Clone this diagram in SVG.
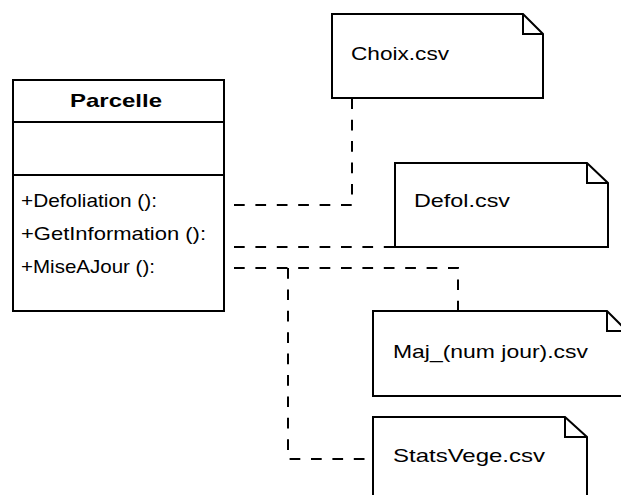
<svg xmlns="http://www.w3.org/2000/svg" width="621" height="495" viewBox="0 0 621 495">
  <style>
    .shape { fill: #ffffff; stroke: #000000; stroke-width: 2; }
    .fold { fill: none; stroke: #000000; stroke-width: 2; }
    .link { fill: none; stroke: #000000; stroke-width: 2; stroke-dasharray: 10.7 10.7; }
    .label { font-family: "Liberation Sans", Arial, sans-serif; font-size: 18.5px; fill: #000000; }
    .title { font-family: "Liberation Sans", Arial, sans-serif; font-size: 18.5px; font-weight: bold; fill: #000000; }
  </style>
  <rect width="621" height="495" fill="#ffffff"/>

  <!-- dependency connectors -->
  <g id="connectors">
    <path class="link" d="M234,205 H352 V98"/>
    <path class="link" d="M234,247 H395"/>
    <path class="link" d="M234,268 H458 V311"/>
    <path class="link" d="M288,268 V459 H373"/>
  </g>

  <!-- class Parcelle -->
  <g id="parcelle">
    <rect class="shape" x="13" y="80" width="211" height="231"/>
    <line class="fold" x1="13" y1="122" x2="224" y2="122"/>
    <line class="fold" x1="13" y1="175" x2="224" y2="175"/>
    <text class="title" x="70" y="107" textLength="92" lengthAdjust="spacingAndGlyphs">Parcelle</text>
    <text class="label" x="21" y="206.5" textLength="136" lengthAdjust="spacingAndGlyphs">+Defoliation ():</text>
    <text class="label" x="21" y="240" textLength="185" lengthAdjust="spacingAndGlyphs">+GetInformation ():</text>
    <text class="label" x="21" y="273" textLength="134" lengthAdjust="spacingAndGlyphs">+MiseAJour ():</text>
  </g>

  <!-- note Choix.csv -->
  <g id="note-choix">
    <path class="shape" d="M332,14 H523 L543,34 V98 H332 Z"/>
    <path class="fold" d="M523,14 V34 H543"/>
    <text class="label" x="351" y="59.5" textLength="98" lengthAdjust="spacingAndGlyphs">Choix.csv</text>
  </g>

  <!-- note Defol.csv -->
  <g id="note-defol">
    <path class="shape" d="M395,163 H587 L608,183 V247 H395 Z"/>
    <path class="fold" d="M587,163 V183 H608"/>
    <text class="label" x="414" y="207" textLength="96" lengthAdjust="spacingAndGlyphs">Defol.csv</text>
  </g>

  <!-- note Maj_(num jour).csv -->
  <g id="note-maj">
    <path class="shape" d="M373,311 H607 L627,331 V396 H373 Z"/>
    <path class="fold" d="M607,311 V331 H627"/>
    <text class="label" x="393" y="358" textLength="195" lengthAdjust="spacingAndGlyphs">Maj_(num jour).csv</text>
  </g>

  <!-- note StatsVege.csv -->
  <g id="note-stats">
    <path class="shape" d="M373,417 H565 L587,437 V505 H373 Z"/>
    <path class="fold" d="M565,417 V437 H587"/>
    <text class="label" x="393" y="462" textLength="152" lengthAdjust="spacingAndGlyphs">StatsVege.csv</text>
  </g>
</svg>
